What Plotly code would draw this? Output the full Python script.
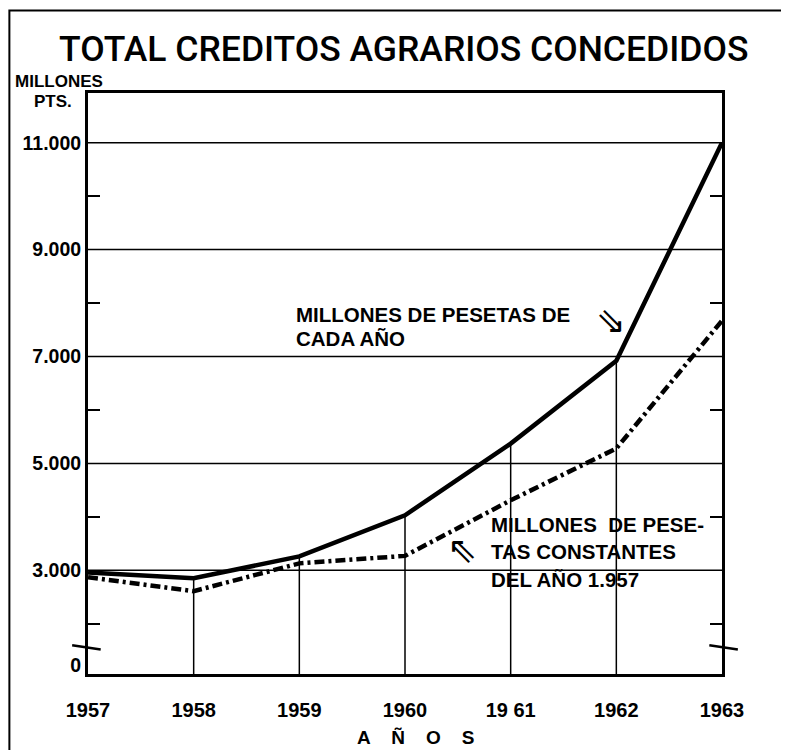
import plotly.graph_objects as go

years = [1957, 1958, 1959, 1960, 1961, 1962, 1963]
corrientes = [2960, 2850, 3260, 4030, 5370, 6920, 11000]   # millones de pesetas de cada año
constantes = [2870, 2610, 3130, 3270, 4310, 5280, 7670]    # millones de pesetas constantes de 1957

y_labels_vals = [3000, 5000, 7000, 9000, 11000]
y_labels_text = ["3.000", "5.000", "7.000", "9.000", "11.000"]
minor_vals = [2000, 4000, 6000, 8000, 10000]
x_labels = ["1957", "1958", "1959", "1960", "19 61", "1962", "1963"]

label_corrientes = ["MILLONES DE PESETAS DE", "CADA AÑO"]
label_constantes = ["MILLONES  DE PESE-", "TAS CONSTANTES", "DEL AÑO 1.957"]

Y_BOTTOM = 1060   # broken axis: bottom labelled "0"
Y_TOP = 11930

FONT = "Liberation Sans"

fig = go.Figure()

# drop lines from axis to the current-pesetas curve
dx, dy = [], []
for x, v in zip(years[1:-1], corrientes[1:-1]):
    dx += [x, x, None]
    dy += [Y_BOTTOM, v, None]
fig.add_trace(go.Scatter(x=dx, y=dy, mode="lines", line=dict(color="black", width=1.5),
                         hoverinfo="skip", showlegend=False))

fig.add_trace(go.Scatter(x=years, y=constantes, mode="lines",
                         line=dict(color="black", width=4.5, dash="10px,4px,3px,4px"),
                         showlegend=False))
fig.add_trace(go.Scatter(x=years, y=corrientes, mode="lines",
                         line=dict(color="black", width=4.5), showlegend=False))
# invisible trace for right axis
fig.add_trace(go.Scatter(x=[years[0]], y=[Y_BOTTOM], yaxis="y2", mode="markers",
                         marker=dict(opacity=0), hoverinfo="skip", showlegend=False))

fig.update_layout(
    width=781, height=742,
    margin=dict(l=80, r=67, t=85, b=76),
    paper_bgcolor="white", plot_bgcolor="white",
    font=dict(family=FONT, color="black"),
    showlegend=False,
    xaxis=dict(range=[1957, 1963], tickvals=years, ticktext=x_labels,
               showgrid=False, zeroline=False, showline=True, mirror=True,
               linecolor="black", linewidth=3, ticks="", ticklabelstandoff=16,
               tickfont=dict(size=20, family=FONT, weight="bold")),
    yaxis=dict(range=[Y_BOTTOM, Y_TOP],
               tickvals=[Y_BOTTOM + 170] + y_labels_vals, ticktext=["0"] + y_labels_text,
               showgrid=False, zeroline=False, showline=True, mirror=True,
               linecolor="black", linewidth=3, ticks="",
               tickfont=dict(size=19.5, family=FONT, weight="bold"),
               minor=dict(tickvals=minor_vals, ticks="inside", ticklen=12, tickwidth=2,
                          tickcolor="black", showgrid=False)),
    yaxis2=dict(overlaying="y", side="right", matches="y", showgrid=False, zeroline=False,
                tickvals=minor_vals, ticks="inside", ticklen=12, tickwidth=2, tickcolor="black",
                showticklabels=False, showline=False),
)

# grid lines
for v in y_labels_vals:
    fig.add_shape(type="line", xref="paper", yref="y", x0=0, x1=1, y0=v, y1=v,
                  line=dict(color="black", width=1.5), layer="below")

# axis break marks
for x0, x1 in [(-0.025, 0.02), (0.98, 1.025)]:
    fig.add_shape(type="line", xref="paper", yref="y", x0=x0, x1=x1,
                  y0=1600, y1=1520, line=dict(color="black", width=2.5))

# outer frame of the original sheet
fig.add_shape(type="path", xref="paper", yref="paper",
              path="M -0.124,-0.2 L -0.124,1.142 L 1.101,1.142 L 1.101,-0.2",
              line=dict(color="black", width=2))

fig.add_annotation(text="TOTAL CREDITOS AGRARIOS CONCEDIDOS", xref="paper", yref="paper",
                   x=0.497, y=1.076, xanchor="center", yanchor="middle", showarrow=False,
                   font=dict(size=35.5, family="Roboto", weight=500))
fig.add_annotation(text="<b>MILLONES</b>", xref="paper", yref="paper",
                   x=-0.118, y=1.019, xanchor="left", yanchor="middle", showarrow=False,
                   font=dict(size=17, family=FONT))
fig.add_annotation(text="<b>PTS.</b>", xref="paper", yref="paper",
                   x=-0.089, y=0.985, xanchor="left", yanchor="middle", showarrow=False,
                   font=dict(size=17, family=FONT))
fig.add_annotation(text="<b>A    Ñ    O    S</b>", xref="paper", yref="paper",
                   x=0.517, y=-0.110, xanchor="center", yanchor="middle", showarrow=False,
                   font=dict(size=19, family=FONT))

for txt, yy in zip(label_corrientes, [0.618, 0.578]):
    fig.add_annotation(text="<b>" + txt + "</b>", xref="paper", yref="paper",
                       x=0.325, y=yy, xanchor="left", yanchor="middle", align="left",
                       showarrow=False, font=dict(size=20.5, family=FONT))
fig.add_annotation(text="⇘", xref="paper", yref="paper", x=0.825, y=0.609,
                   xanchor="center", yanchor="middle", showarrow=False,
                   font=dict(size=36, family="DejaVu Sans"))
for txt, yy in zip(label_constantes, [0.2565, 0.210, 0.162]):
    fig.add_annotation(text="<b>" + txt + "</b>", xref="paper", yref="paper",
                       x=0.633, y=yy, xanchor="left", yanchor="middle", align="left",
                       showarrow=False, font=dict(size=20.5, family=FONT))
fig.add_annotation(text="⇖", xref="paper", yref="paper", x=0.59, y=0.215,
                   xanchor="center", yanchor="middle", showarrow=False,
                   font=dict(size=36, family="DejaVu Sans"))

fig.write_html("out.html")
